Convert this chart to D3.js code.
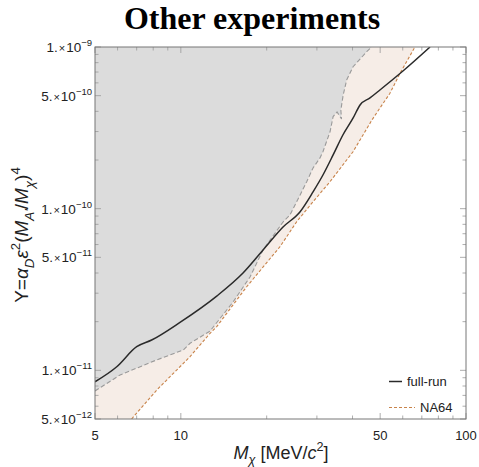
<!DOCTYPE html>
<html>
<head>
<meta charset="utf-8">
<script src="https://cdn.jsdelivr.net/npm/d3@7"></script>
<style>
  body { margin: 0; background: #fff; }
  svg text { font-family: "Liberation Sans", Arial, sans-serif; }
</style>
</head>
<body>
<script>
// chart data (mass in MeV/c^2, Y dimensionless)

// full-run sensitivity line
var fullRunM = [5.00, 5.96, 7.00, 7.90, 9.93, 13.36, 16.52, 19.42, 22.82, 26.2, 29.08, 31.5, 34.2, 37.0, 40.2, 42.5, 46.06, 49.9, 60.1, 74.8];
var fullRunY = [8.50e-12, 1.053e-11, 1.40e-11, 1.54e-11, 1.98e-11, 2.88e-11, 4.0e-11, 5.55e-11, 7.70e-11, 9.58e-11, 1.27e-10, 1.615e-10, 2.15e-10, 2.855e-10, 3.64e-10, 4.38e-10, 4.84e-10, 5.42e-10, 7.10e-10, 1.0e-9];

// other experiments boundary (gray region)
var otherM = [5.00, 6.12, 8.23, 10.2, 10.77, 12.66, 15.24, 17.48, 19.42, 22.82, 24.14, 26.2, 27.63, 29.08, 30.76, 31.5, 33.36, 34.2, 35.3, 36.6, 36.4, 37.1, 38.15, 40.17, 44.86, 46.7];
var otherY = [7.45e-12, 9.36e-12, 1.16e-11, 1.336e-11, 1.47e-11, 1.75e-11, 2.645e-11, 3.78e-11, 5.55e-11, 8.27e-11, 9.14e-11, 1.215e-10, 1.469e-10, 1.785e-10, 2.06e-10, 2.25e-10, 2.99e-10, 3.71e-10, 3.96e-10, 3.59e-10, 4.08e-10, 5.05e-10, 6.25e-10, 7.55e-10, 9.35e-10, 1.0e-9];

// NA64 limit
var na64M = [6.72, 8.23, 8.92, 10.77, 12.66, 13.36, 17.02, 22.27, 25.49, 29.08, 33.36, 38.15, 40.17, 46.8, 49.9, 54.1, 58.7, 66.2];
var na64Y = [5.0e-12, 7.55e-12, 8.71e-12, 1.215e-11, 1.695e-11, 1.862e-11, 3.29e-11, 5.82e-11, 8.31e-11, 1.104e-10, 1.469e-10, 2.0e-10, 2.25e-10, 3.54e-10, 4.19e-10, 5.17e-10, 6.88e-10, 1.0e-9];

// ticks
var xMajor = [5, 10, 50, 100];
var xMinor = [6, 7, 8, 9, 20, 30, 40, 60, 70, 80, 90];
var yMajor = [1e-9, 5e-10, 1e-10, 5e-11, 1e-11, 5e-12];
var yMant = ["1.", "5.", "1.", "5.", "1.", "5."];
var yExp = ["\u22129", "\u221210", "\u221210", "\u221211", "\u221211", "\u221212"];
var yMinor = [6e-12, 7e-12, 8e-12, 9e-12, 2e-11, 3e-11, 4e-11, 6e-11, 7e-11, 8e-11, 9e-11, 2e-10, 3e-10, 4e-10, 6e-10, 7e-10, 8e-10, 9e-10];

var W = 479, H = 467;
var pLeft = 95, pRight = 466, pTop = 47, pBottom = 419;

var svg = d3.select("body").append("svg")
    .attr("width", W)
    .attr("height", H);

var x = d3.scaleLog().domain([5, 100]).range([pLeft, pRight]);
var y = d3.scaleLog().domain([5e-12, 1e-9]).range([pBottom, pTop]);

function pts(ms, ys) {
    return ms.map(function(m, i) { return [m, ys[i]]; });
}

svg.append("clipPath").attr("id", "plot")
    .append("rect")
    .attr("x", pLeft).attr("y", pTop)
    .attr("width", pRight - pLeft).attr("height", pBottom - pTop);

var g = svg.append("g").attr("clip-path", "url(#plot)");

var line = d3.line()
    .x(function(d) { return x(d[0]); })
    .y(function(d) { return y(d[1]); });

// NA64 excluded region (beige), everything above the NA64 line
var beige = [[5, 1e-9], [5, 5e-12]].concat(pts(na64M, na64Y));
g.append("path")
    .attr("d", line(beige) + "Z")
    .attr("fill", "#f6ede7");

// other experiments (gray)
var gray = [[5, 1e-9]].concat(pts(otherM, otherY));
g.append("path")
    .attr("d", line(gray) + "Z")
    .attr("fill", "#dcdcdc");

g.append("path")
    .attr("d", line(pts(otherM, otherY)))
    .attr("fill", "none")
    .attr("stroke", "#9a9a9a")
    .attr("stroke-width", 1.1)
    .attr("stroke-dasharray", "4.5,2.5");

g.append("path")
    .attr("d", line(pts(na64M, na64Y)))
    .attr("fill", "none")
    .attr("stroke", "#c8834a")
    .attr("stroke-width", 1.1)
    .attr("stroke-dasharray", "3,2");

var smooth = d3.line()
    .x(function(d) { return x(d[0]); })
    .y(function(d) { return y(d[1]); })
    .curve(d3.curveMonotoneX);

g.append("path")
    .attr("d", smooth(pts(fullRunM, fullRunY)))
    .attr("fill", "none")
    .attr("stroke", "#2a2a2a")
    .attr("stroke-width", 1.5);

// ticks on all four sides, pointing inward
var tickCol = "#999";
function ticksX(vals, len) {
    vals.forEach(function(v) {
        svg.append("line").attr("x1", x(v)).attr("x2", x(v))
            .attr("y1", pBottom).attr("y2", pBottom - len)
            .attr("stroke", tickCol).attr("stroke-width", 0.8);
        svg.append("line").attr("x1", x(v)).attr("x2", x(v))
            .attr("y1", pTop).attr("y2", pTop + len)
            .attr("stroke", tickCol).attr("stroke-width", 0.8);
    });
}
function ticksY(vals, len) {
    vals.forEach(function(v) {
        svg.append("line").attr("y1", y(v)).attr("y2", y(v))
            .attr("x1", pLeft).attr("x2", pLeft + len)
            .attr("stroke", tickCol).attr("stroke-width", 0.8);
        svg.append("line").attr("y1", y(v)).attr("y2", y(v))
            .attr("x1", pRight).attr("x2", pRight - len)
            .attr("stroke", tickCol).attr("stroke-width", 0.8);
    });
}
ticksX(xMajor, 6);
ticksX(xMinor, 3.5);
ticksY(yMajor, 6);
ticksY(yMinor, 3.5);

// frame
svg.append("rect")
    .attr("x", pLeft).attr("y", pTop)
    .attr("width", pRight - pLeft).attr("height", pBottom - pTop)
    .attr("fill", "none")
    .attr("stroke", "#777")
    .attr("stroke-width", 1);

// x tick labels
svg.selectAll(".xlab")
    .data(xMajor)
    .enter()
    .append("text")
    .attr("x", function(d) { return x(d); })
    .attr("y", 440)
    .attr("text-anchor", "middle")
    .attr("font-size", 13)
    .attr("fill", "#222")
    .text(function(d) { return d; });

// y tick labels like "1. × 10^-9"
yMajor.forEach(function(v, i) {
    var t = svg.append("text")
        .attr("x", 92)
        .attr("y", y(v) + 5)
        .attr("text-anchor", "end")
        .attr("font-size", 13.5)
        .attr("fill", "#222");
    t.append("tspan").text(yMant[i]);
    t.append("tspan").attr("font-size", 11).attr("dx", 1).text("\u00d7");
    t.append("tspan").attr("dx", 1).text("10");
    t.append("tspan").attr("font-size", 9.5).attr("dy", -6).text(yExp[i]);
});

// rich text helper: parts of [text, italic, pos]
function rich(t, parts, size) {
    var cur = 0;
    parts.forEach(function(p) {
        var off = p[2] === "sub" ? size * 0.3 : (p[2] === "sup" ? -size * 0.42 : 0);
        var s = t.append("tspan")
            .attr("dy", off - cur)
            .attr("font-size", p[2] ? size * 0.7 : size)
            .text(p[0]);
        if (p[1]) s.attr("font-style", "italic");
        cur = off;
    });
}

// x axis title
var xt = svg.append("text")
    .attr("x", 281).attr("y", 459)
    .attr("text-anchor", "middle")
    .attr("font-size", 18)
    .attr("fill", "#222");
rich(xt, [["M", true], ["\u03c7", true, "sub"], [" [MeV/", false], ["c", true], ["2", false, "sup"], ["]", false]], 18);

// y axis title
var yt = svg.append("text")
    .attr("transform", "translate(28,235) rotate(-90)")
    .attr("text-anchor", "middle")
    .attr("font-size", 19)
    .attr("fill", "#222");
rich(yt, [["Y=", false], ["\u03b1", true], ["D", true, "sub"], ["\u03b5", true], ["2", false, "sup"],
          ["(", false], ["M", true], ["A'", true, "sub"], ["/", false], ["M", true], ["\u03c7", true, "sub"],
          [")", false], ["4", false, "sup"]], 19);

// title
svg.append("text")
    .attr("x", 252).attr("y", 29)
    .attr("text-anchor", "middle")
    .style("font-family", "'Liberation Serif', 'Times New Roman', serif")
    .attr("font-weight", "bold")
    .attr("font-size", 32)
    .text("Other experiments");

// legend
var legend = [
    { name: "full-run", color: "#2a2a2a", dash: null, x1: 389, x2: 402, yy: 381.5 },
    { name: "NA64", color: "#c8834a", dash: "3,2", x1: 389, x2: 415, yy: 407.5 }
];
legend.forEach(function(d) {
    svg.append("line")
        .attr("x1", d.x1).attr("x2", d.x2)
        .attr("y1", d.yy).attr("y2", d.yy)
        .attr("stroke", d.color)
        .attr("stroke-width", d.dash ? 1.1 : 1.5)
        .attr("stroke-dasharray", d.dash);
    svg.append("text")
        .attr("x", d.x2 + 5).attr("y", d.yy + 4.5)
        .attr("font-size", 13)
        .attr("fill", "#222")
        .text(d.name);
});
</script>
</body>
</html>
